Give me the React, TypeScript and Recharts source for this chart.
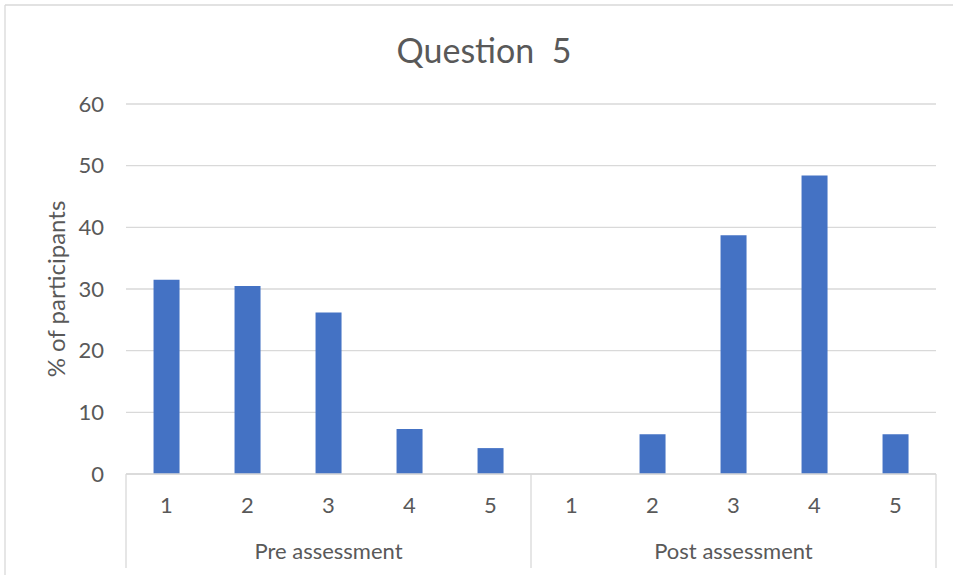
import React from "react";
import { BarChart, Bar, XAxis, YAxis, CartesianGrid } from "recharts";

const responseLabels = ["1", "2", "3", "4", "5"];
const groups = ["Pre assessment", "Post assessment"];
const preValues = [31.5, 30.5, 26.2, 7.3, 4.2];
const postValues = [0, 6.45, 38.7, 48.4, 6.45];
const yTicks = [0, 10, 20, 30, 40, 50, 60];

const data = [
  ...responseLabels.map((l, i) => ({ label: l, group: groups[0], value: preValues[i] })),
  ...responseLabels.map((l, i) => ({ label: l, group: groups[1], value: postValues[i] })),
];

const FONT = "Lato, 'Open Sans', sans-serif";
const TEXT = "#595959";
const GRID = "#D9D9D9";

const InnerTick = (props: any) => {
  const { x, y, payload, index } = props;
  const half = payload && payload.offset ? payload.offset : 40.5;
  const lines: React.ReactNode[] = [];
  if (index % 5 === 0) {
    lines.push(<line key="l" x1={x - half} x2={x - half} y1={y} y2={y + 94} stroke={GRID} strokeWidth={1.3} />);
  }
  if (index === data.length - 1) {
    lines.push(<line key="r" x1={x + half} x2={x + half} y1={y} y2={y + 94} stroke={GRID} strokeWidth={1.3} />);
  }
  return (
    <g>
      {lines}
      <text x={x} y={y + 39} textAnchor="middle" fill={TEXT} fontSize={22} fontFamily={FONT}>
        {payload.value}
      </text>
    </g>
  );
};

const GroupTick = (props: any) => {
  const { x, y, payload, index } = props;
  if (index % 5 !== 2) return <g />;
  return (
    <text x={x} y={y + 35} textAnchor="middle" fill={TEXT} fontSize={22} fontFamily={FONT}>
      {payload.value}
    </text>
  );
};

export default function App() {
  return (
    <div style={{ position: "absolute", left: 0, top: 0, width: 953, height: 575, background: "#fff" }}>
      <BarChart
        width={953}
        height={575}
        data={data}
        margin={{ top: 104, right: 17, left: 0, bottom: 0 }}
        barCategoryGap="34%"
      >
        <CartesianGrid vertical={false} stroke={GRID} strokeWidth={1.3} />
        <XAxis
          xAxisId="0"
          dataKey="label"
          interval={0}
          height={50}
          tickSize={0}
          tickMargin={0}
          tickLine={false}
          axisLine={{ stroke: GRID, strokeWidth: 1.3 }}
          tick={<InnerTick />}
        />
        <XAxis
          xAxisId="grp"
          dataKey="group"
          interval={0}
          height={51}
          tickSize={0}
          tickMargin={0}
          tickLine={false}
          axisLine={false}
          tick={<GroupTick />}
        />
        <YAxis
          domain={[0, 60]}
          ticks={yTicks}
          width={126}
          tickSize={0}
          tickMargin={22}
          axisLine={false}
          tickLine={false}
          tick={{ fill: TEXT, fontSize: 22, fontFamily: FONT }}
          label={{
            value: "% of participants",
            angle: -90,
            position: "center",
            dx: -7,
            fill: TEXT,
            fontSize: 24,
            fontFamily: FONT,
          }}
        />
        <Bar xAxisId="0" dataKey="value" fill="#4472C4" isAnimationActive={false} />
      </BarChart>
      <svg
        width={953}
        height={575}
        style={{ position: "absolute", left: 0, top: 0, pointerEvents: "none" }}
      >
        <line x1={5} x2={5} y1={5} y2={575} stroke={GRID} strokeWidth={1.3} />
        <line x1={5} x2={953} y1={5} y2={5} stroke={GRID} strokeWidth={1.3} />
        <text
          x={484}
          y={63}
          textAnchor="middle"
          fill={TEXT}
          fontSize={34}
          fontFamily={FONT}
          style={{ whiteSpace: "pre" }}
        >
          {"Question  5"}
        </text>
      </svg>
    </div>
  );
}
